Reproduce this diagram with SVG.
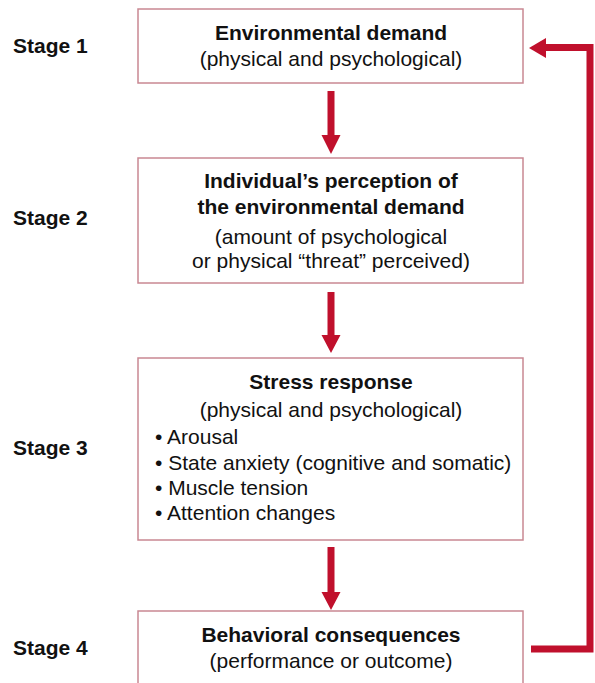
<svg xmlns="http://www.w3.org/2000/svg" width="595" height="683" viewBox="0 0 595 683">
<style>
.box{fill:#fff;stroke:#c98892;stroke-width:1.5}
.t{font-family:"Liberation Sans",Arial,sans-serif;font-size:21px;fill:#111}
.b{font-weight:bold}
.c{text-anchor:middle}
.stage{font-family:"Liberation Sans",Arial,sans-serif;font-size:21px;font-weight:bold;fill:#111}
.arr{fill:#c0102c}
.fb{fill:none;stroke:#c0102c;stroke-width:7}
</style>
<rect width="595" height="683" fill="#fff"/>
<g id="stages">
<text class="stage" x="13" y="53">Stage 1</text>
<text class="stage" x="13" y="225">Stage 2</text>
<text class="stage" x="13" y="455">Stage 3</text>
<text class="stage" x="13" y="655">Stage 4</text>
</g>
<g id="node1">
<rect class="box" x="138" y="9" width="385" height="74"/>
<text class="t b c" x="331" y="40">Environmental demand</text>
<text class="t c" x="331" y="66">(physical and psychological)</text>
</g>
<g id="node2">
<rect class="box" x="138" y="158" width="385" height="125"/>
<text class="t b c" x="331" y="188">Individual’s perception of</text>
<text class="t b c" x="331" y="214">the environmental demand</text>
<text class="t c" x="331" y="244">(amount of psychological</text>
<text class="t c" x="331" y="268">or physical “threat” perceived)</text>
</g>
<g id="node3">
<rect class="box" x="138" y="358" width="385" height="182"/>
<text class="t b c" x="331" y="389">Stress response</text>
<text class="t c" x="331" y="417">(physical and psychological)</text>
<text class="t" x="155" y="444">• Arousal</text>
<text class="t" x="155" y="470">• State anxiety (cognitive and somatic)</text>
<text class="t" x="155" y="495">• Muscle tension</text>
<text class="t" x="155" y="520">• Attention changes</text>
</g>
<g id="node4">
<rect class="box" x="138" y="611" width="385" height="90"/>
<text class="t b c" x="331" y="642">Behavioral consequences</text>
<text class="t c" x="331" y="668">(performance or outcome)</text>
</g>
<g id="connectors">
<polygon class="arr" points="327.5,91 334.5,91 334.5,135 340.5,135 331,154 321.5,135 327.5,135"/>
<polygon class="arr" points="327.5,292 334.5,292 334.5,335 340.5,335 331,353 321.5,335 327.5,335"/>
<polygon class="arr" points="327.5,547 334.5,547 334.5,592 340.5,592 331,610 321.5,592 327.5,592"/>
<polyline class="fb" points="531,649 590,649 590,47.5 543,47.5"/>
<polygon class="arr" points="529,48 546,38 546,58"/>
</g>
</svg>
